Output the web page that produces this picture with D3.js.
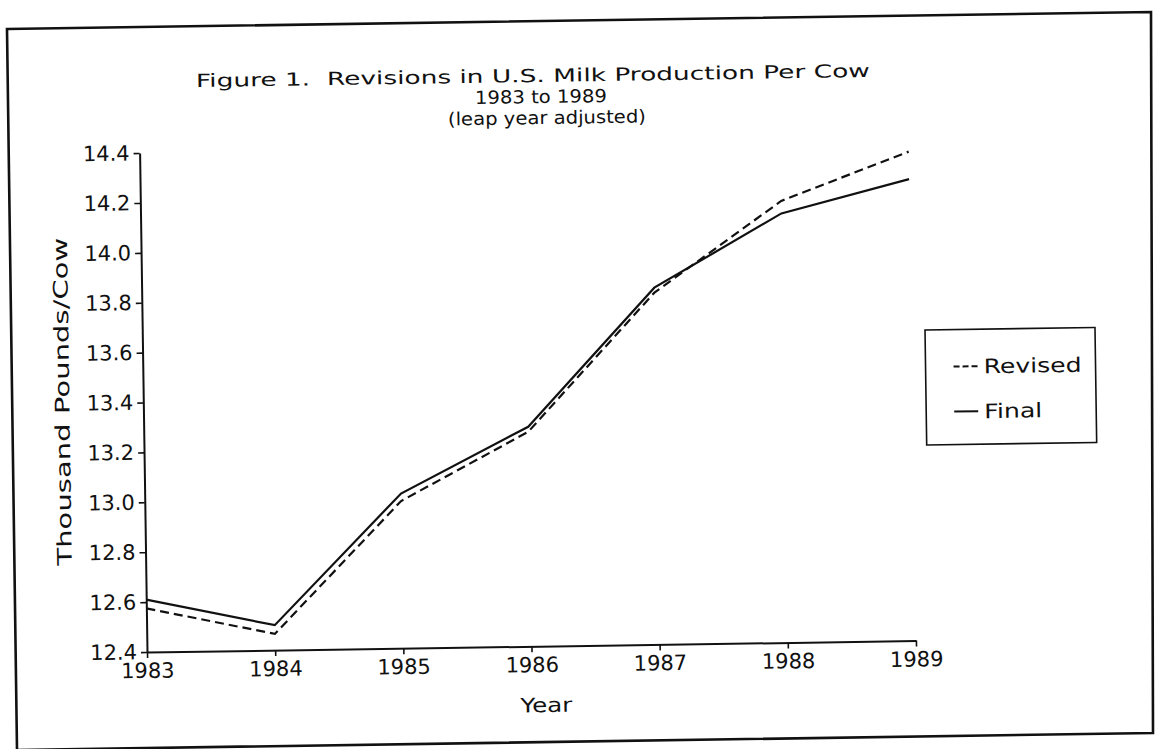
<!DOCTYPE html>
<html>
<head>
<meta charset="utf-8">
<script src="https://cdn.jsdelivr.net/npm/d3@7"></script>
<style>
  html, body { margin: 0; padding: 0; background: #fff; }
  svg { display: block; }
  text { font-family: "DejaVu Sans", sans-serif; fill: #111; white-space: pre; }
</style>
</head>
<body>
<svg id="chart" width="1156" height="749"></svg>
<script>
// ---- data ----
const years = [1983, 1984, 1985, 1986, 1987, 1988, 1989];
const revised = [12.575, 12.465, 12.99, 13.26, 13.81, 14.17, 14.36];
const final = [12.61, 12.50, 13.02, 13.28, 13.83, 14.12, 14.25];
const yTicks = [12.4, 12.6, 12.8, 13.0, 13.2, 13.4, 13.6, 13.8, 14.0, 14.2, 14.4];
const titleLines = ["Figure 1.  Revisions in U.S. Milk Production Per Cow", "1983 to 1989", "(leap year adjusted)"];
const seriesNames = ["Revised", "Final"];

// ---- layout ----
const W = 1156, H = 749;
const ox = 147, oy = 652;      // plot origin (bottom-left) on screen
const pw = 769, ph = 499;      // plot size in unrotated frame
const tilt = -0.85;            // scanned page skew (deg)

const svg = d3.select("#chart");
svg.append("rect").attr("width", W).attr("height", H).attr("fill", "#fff");

// outer frame
svg.append("path")
  .attr("d", d3.line()([[7, 29], [1151, 12], [1153, 733], [17, 750]]) + "Z")
  .attr("fill", "none").attr("stroke", "#111").attr("stroke-width", 2.6);

const g = svg.append("g")
  .attr("transform", `translate(${ox},${oy}) rotate(${tilt}) translate(0,${-ph})`);

const x = d3.scaleLinear().domain([1983, 1989]).range([0, pw]);
const y = d3.scaleLinear().domain([12.4, 14.4]).range([ph, 0]);

// y axis
const ya = g.append("g")
  .call(d3.axisLeft(y).tickValues(yTicks).tickFormat(d3.format(".1f")).tickSize(6).tickSizeOuter(0).tickPadding(4));
ya.select(".domain").attr("stroke", "#111").attr("stroke-width", 2);
ya.selectAll(".tick line").attr("stroke", "#111").attr("stroke-width", 1.6);
ya.selectAll(".tick text").attr("font-size", 21).attr("font-family", "DejaVu Sans").attr("fill", "#111");

// x axis
const xa = g.append("g").attr("transform", `translate(0,${ph})`)
  .call(d3.axisBottom(x).tickValues(years).tickFormat(d3.format("d")).tickSize(6).tickSizeOuter(0).tickPadding(5));
xa.select(".domain").attr("stroke", "#111").attr("stroke-width", 2);
xa.selectAll(".tick line").attr("stroke", "#111").attr("stroke-width", 1.6);
xa.selectAll(".tick text").attr("font-size", 21).attr("font-family", "DejaVu Sans").attr("fill", "#111");

// lines
const line = d3.line().x((d, i) => x(years[i])).y(d => y(d));
g.append("path").datum(final).attr("d", line)
  .attr("fill", "none").attr("stroke", "#111").attr("stroke-width", 2.2);
g.append("path").datum(revised).attr("d", line)
  .attr("fill", "none").attr("stroke", "#111").attr("stroke-width", 2.2)
  .attr("stroke-dasharray", "9,5");

// axis titles
g.append("text").attr("x", x(1986) + 14).attr("y", ph + 66)
  .attr("text-anchor", "middle").attr("font-size", 20)
  .attr("textLength", 52).attr("lengthAdjust", "spacingAndGlyphs").text("Year");
g.append("text")
  .attr("transform", `translate(-74,${ph / 2 - 2}) rotate(-90)`)
  .attr("text-anchor", "middle").attr("font-size", 20)
  .attr("textLength", 328).attr("lengthAdjust", "spacingAndGlyphs")
  .text("Thousand Pounds/Cow");

// title (each line skewed about its own centre)
const titleX = [533, 541, 547];
const titleY = [82, 103, 124];
const titleW = [674, 132, 198];
svg.selectAll(".title").data(titleLines).join("text")
  .attr("class", "title")
  .attr("transform", (d, i) => `translate(${titleX[i]},${titleY[i]}) rotate(${tilt})`)
  .attr("text-anchor", "middle").attr("font-size", 18)
  .attr("textLength", (d, i) => titleW[i]).attr("lengthAdjust", "spacingAndGlyphs")
  .text(d => d);

// legend
const lg = svg.append("g").attr("transform", `translate(925,330) rotate(${tilt})`);
lg.append("rect").attr("x", 0).attr("y", 0).attr("width", 170).attr("height", 115)
  .attr("fill", "#fff").attr("stroke", "#111").attr("stroke-width", 1.6);
const legW = [98, 58];
const li = lg.selectAll(".li").data(seriesNames).join("g")
  .attr("transform", (d, i) => `translate(0,${37 + i * 45})`);
li.append("line").attr("x1", 28).attr("x2", 52).attr("y1", 0).attr("y2", 0)
  .attr("stroke", "#111").attr("stroke-width", 2)
  .attr("stroke-dasharray", (d, i) => i === 0 ? "6,3" : null);
li.append("text").attr("x", 58).attr("y", 7).attr("font-size", 20)
  .attr("textLength", (d, i) => legW[i]).attr("lengthAdjust", "spacingAndGlyphs")
  .text(d => d);
</script>
</body>
</html>
